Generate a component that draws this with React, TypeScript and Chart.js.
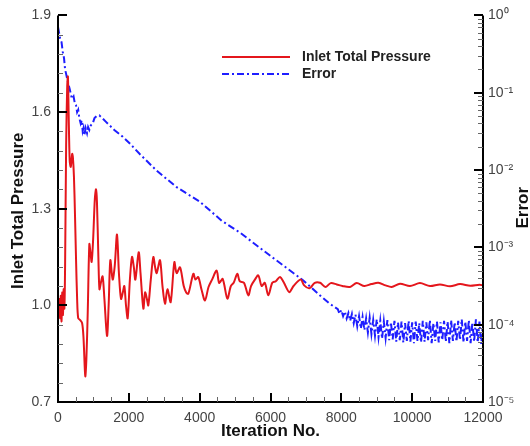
import React, { useEffect, useRef } from 'react';
import { Chart, registerables } from 'chart.js';

Chart.register(...registerables);

// ---------------- data ----------------
const pressureIter = [
  0, 20, 40, 60, 80, 100, 120, 140, 160, 180, 200, 230, 260, 280, 300, 330, 360, 400, 420, 450,
  480, 510, 540, 570, 620, 680, 720, 770, 800, 840, 885, 920, 950, 990, 1040, 1073, 1100, 1140, 1170, 1210,
  1260, 1310, 1384, 1430, 1478, 1543, 1600, 1666, 1720, 1779, 1830, 1873, 1920, 1967, 2030, 2089, 2140, 2184, 2278, 2330,
  2410, 2460, 2510, 2550, 2620, 2692, 2740, 2786, 2880, 2950, 3021, 3090, 3181, 3285, 3350, 3445, 3550, 3620, 3680, 3822,
  3880, 3960, 4050, 4150, 4250, 4350, 4480, 4550, 4650, 4782, 4880, 4960, 5063, 5130, 5250, 5374, 5450, 5560, 5656, 5750,
  5840, 5938, 6050, 6150, 6268, 6380, 6531, 6650, 6852, 6950, 7100, 7250, 7400, 7550, 7700, 7870, 8030, 8245, 8433, 8650,
  8850, 9045, 9250, 9420, 9656, 9938, 10220, 10503, 10785, 11070, 11350, 11640, 11900, 12000,
];
const pressure = [
  1.0, 0.97, 1.02, 0.96, 1.03, 0.95, 1.04, 0.97, 1.05, 0.99, 1.12, 1.5, 1.68, 1.71, 1.6, 1.45, 1.43, 1.47, 1.46, 1.4,
  1.28, 1.14, 1.02, 0.96, 0.955, 0.945, 0.9, 0.78, 0.83, 0.98, 1.19, 1.16, 1.135, 1.2, 1.33, 1.36, 1.32, 1.15, 1.05, 1.07,
  1.09, 1.02, 0.905, 1.0, 1.14, 1.08, 1.12, 1.22, 1.1, 1.02, 1.04, 1.06, 1.0, 0.96, 1.08, 1.15, 1.12, 1.08, 1.165, 1.1,
  0.99, 1.04, 1.02, 1.0, 1.08, 1.15, 1.12, 1.1, 1.14, 1.06, 1.005, 1.05, 1.01, 1.134, 1.1, 1.118, 1.06, 1.04, 1.036, 1.098,
  1.08, 1.088, 1.05, 1.015, 1.057, 1.08, 1.108, 1.07, 1.082, 1.021, 1.06, 1.07, 1.098, 1.075, 1.07, 1.031, 1.06, 1.08, 1.093, 1.06,
  1.07, 1.031, 1.07, 1.075, 1.088, 1.07, 1.041, 1.06, 1.08, 1.062, 1.053, 1.07, 1.07, 1.057, 1.069, 1.065, 1.06, 1.057, 1.069, 1.06,
  1.066, 1.07, 1.062, 1.057, 1.067, 1.06, 1.069, 1.06, 1.065, 1.059, 1.066, 1.061, 1.064, 1.062,
];

const errorIter = [
  0, 60, 100, 133, 170, 200, 226, 260, 300, 330, 367, 400, 440, 480, 508, 540, 570, 602, 640, 670,
  697, 720, 743, 780, 820, 850, 884, 930, 980, 1030, 1090, 1166, 1250, 1355, 1590, 1827, 2013, 2315, 2787, 3351,
  4009, 4622, 5139, 5986, 6926, 7398, 7650,
  7900, 7950, 8000, 8050, 8100, 8150, 8200, 8250, 8300, 8350, 8400, 8450, 8500, 8550, 8600, 8650, 8700, 8750, 8800, 8850,
  8900, 8950, 9000, 9050, 9100, 9150, 9200, 9250, 9300, 9350, 9400, 9450, 9500, 9550, 9600, 9650, 9700, 9750, 9800, 9850,
  9900, 9950, 10000, 10050, 10100, 10150, 10200, 10250, 10300, 10350, 10400, 10450, 10500, 10550, 10600, 10650, 10700, 10750, 10800, 10850,
  10900, 10950, 11000, 11050, 11100, 11150, 11200, 11250, 11300, 11350, 11400, 11450, 11500, 11550, 11600, 11650, 11700, 11750, 11800, 11850,
  11900, 11950, 12000,
];
const errorValues = [
  0.71, 0.5, 0.45, 0.34, 0.28, 0.2, 0.178, 0.151, 0.126, 0.112, 0.093, 0.083, 0.089, 0.071, 0.069, 0.056, 0.06, 0.047, 0.04, 0.044,
  0.032, 0.035, 0.028, 0.035, 0.03, 0.036, 0.033, 0.038, 0.04, 0.047, 0.05, 0.051, 0.047, 0.042, 0.033, 0.027, 0.0224, 0.016, 0.0098, 0.006,
  0.00388, 0.00221, 0.00155, 0.000783, 0.000373, 0.000239, 0.00019,
  1.585e-4, 1.38e-4, 1.549e-4, 1.288e-4, 1.479e-4, 1.202e-4, 1.413e-4, 1.122e-4, 1.38e-4, 1.047e-4, 1.349e-4, 9.55e-5, 1.288e-4, 8.91e-5, 1.259e-4, 8.51e-5, 1.202e-4, 7.94e-5, 1.23e-4, 7.59e-5,
  1.148e-4, 7.24e-5, 1.175e-4, 6.92e-5, 1.122e-4, 6.61e-5, 1.096e-4, 6.76e-5, 1.148e-4, 6.31e-5, 1.072e-4, 6.46e-5, 1.122e-4, 6.03e-5, 1.072e-4, 6.31e-5, 1.096e-4, 5.89e-5, 1.047e-4, 6.17e-5,
  1.122e-4, 6.03e-5, 1.072e-4, 5.75e-5, 1.096e-4, 6.17e-5, 1.047e-4, 5.89e-5, 1.122e-4, 6.03e-5, 1.072e-4, 6.31e-5, 1.148e-4, 5.75e-5, 1.047e-4, 6.17e-5, 1.096e-4, 5.89e-5, 1.072e-4, 6.31e-5,
  1.122e-4, 6.03e-5, 1.096e-4, 5.75e-5, 1.148e-4, 6.17e-5, 1.072e-4, 6.03e-5, 1.122e-4, 6.31e-5, 1.175e-4, 5.89e-5, 1.096e-4, 6.17e-5, 1.148e-4, 5.75e-5, 1.072e-4, 6.03e-5, 1.175e-4, 5.89e-5,
  1.096e-4, 5.62e-5, 1.047e-4,
];

const xTickValues = [0, 2000, 4000, 6000, 8000, 10000, 12000];
const leftTickValues = [0.7, 1.0, 1.3, 1.6, 1.9];
const rightTickLabels: Record<string, string> = {
  '0': '10\u2070',
  '-1': '10\u207B\u00B9',
  '-2': '10\u207B\u00B2',
  '-3': '10\u207B\u00B3',
  '-4': '10\u207B\u2074',
  '-5': '10\u207B\u2075',
};

const seriesNames = ['Inlet Total Pressure', 'Error'];
const axisTitles = { left: 'Inlet Total Pressure', bottom: 'Iteration No.', right: 'Error' };

const RED = 'rgb(228,22,28)';
const BLUE = 'rgb(30,30,255)';
const FONT = '"Liberation Sans", Arial, Helvetica, sans-serif';
const ERROR_DASH = [7, 3, 2, 3];

const tecplotPlugin = {
  id: 'tecplotFrame',
  afterDatasetsDraw(chart: any) {
    const { ctx, chartArea: a, scales } = chart;
    const sx = scales.x, sy = scales.y, sy1 = scales.y1;
    ctx.save();

    // axis lines (left, bottom, right; open at top)
    ctx.strokeStyle = '#000';
    ctx.lineWidth = 2;
    ctx.beginPath();
    ctx.moveTo(a.left, a.top);
    ctx.lineTo(a.left, a.bottom);
    ctx.lineTo(a.right, a.bottom);
    ctx.lineTo(a.right, a.top);
    ctx.stroke();

    const majorLen = 9;
    const minorLen = 5;

    // left axis ticks
    for (let v = 0.7; v <= 1.9001; v += 0.06) {
      const isMajor = leftTickValues.some((t) => Math.abs(t - v) < 1e-6);
      const py = Math.round(sy.getPixelForValue(v));
      ctx.beginPath();
      ctx.lineWidth = isMajor ? 2 : 1;
      ctx.strokeStyle = isMajor ? '#000' : '#666';
      const yy = isMajor ? py : py + 0.5;
      ctx.moveTo(a.left, yy);
      ctx.lineTo(a.left + (isMajor ? majorLen : minorLen), yy);
      ctx.stroke();
    }

    // bottom axis ticks
    for (let v = 0; v <= 12000; v += 500) {
      const isMajor = xTickValues.includes(v);
      const px = Math.round(sx.getPixelForValue(v));
      ctx.beginPath();
      ctx.lineWidth = isMajor ? 2 : 1;
      ctx.strokeStyle = isMajor ? '#000' : '#666';
      const xx = isMajor ? px : px + 0.5;
      ctx.moveTo(xx, a.bottom);
      ctx.lineTo(xx, a.bottom - (isMajor ? majorLen : minorLen));
      ctx.stroke();
    }

    // right axis ticks (log)
    for (let e = -5; e <= 0; e++) {
      for (let k = 1; k <= 9; k++) {
        if (e === 0 && k > 1) break;
        const v = k * Math.pow(10, e);
        const py = Math.round(sy1.getPixelForValue(v));
        const isMajor = k === 1;
        ctx.beginPath();
        ctx.lineWidth = isMajor ? 2 : 1;
        ctx.strokeStyle = isMajor ? '#000' : '#666';
        const yy = isMajor ? py : py + 0.5;
        ctx.moveTo(a.right, yy);
        ctx.lineTo(a.right - (isMajor ? majorLen : minorLen), yy);
        ctx.stroke();
      }
    }

    // axis titles
    ctx.fillStyle = '#111';
    ctx.font = `bold 17px ${FONT}`;
    ctx.textAlign = 'center';
    ctx.textBaseline = 'middle';
    ctx.save();
    ctx.translate(18.5, (a.top + a.bottom) / 2 + 2);
    ctx.rotate(-Math.PI / 2);
    ctx.fillText(axisTitles.left, 0, 0);
    ctx.restore();

    ctx.fillText(axisTitles.bottom, (a.left + a.right) / 2, 431);

    ctx.save();
    ctx.translate(523, (a.top + a.bottom) / 2 - 1);
    ctx.rotate(-Math.PI / 2);
    ctx.fillText(axisTitles.right, 0, 0);
    ctx.restore();

    // legend
    const lx0 = a.left + 164;
    const lx1 = a.left + 232;
    const tx = a.left + 244;
    const ly0 = 57;
    const ly1 = 74;
    ctx.lineWidth = 2;
    ctx.strokeStyle = RED;
    ctx.setLineDash([]);
    ctx.beginPath();
    ctx.moveTo(lx0, ly0);
    ctx.lineTo(lx1, ly0);
    ctx.stroke();
    ctx.strokeStyle = BLUE;
    ctx.setLineDash(ERROR_DASH);
    ctx.beginPath();
    ctx.moveTo(lx0, ly1);
    ctx.lineTo(lx1, ly1);
    ctx.stroke();
    ctx.setLineDash([]);
    ctx.fillStyle = '#222';
    ctx.font = `bold 14px ${FONT}`;
    ctx.textAlign = 'left';
    ctx.fillText(seriesNames[0], tx, ly0);
    ctx.fillText(seriesNames[1], tx, ly1);

    ctx.restore();
  },
};

export default function App() {
  const canvasRef = useRef<HTMLCanvasElement | null>(null);

  useEffect(() => {
    const canvas = canvasRef.current;
    if (!canvas) return;
    const pData = pressureIter.map((x, i) => ({ x, y: pressure[i] }));
    const eData = errorIter.map((x, i) => ({ x, y: errorValues[i] }));

    const chart = new Chart(canvas, {
      type: 'line',
      data: {
        datasets: [
          {
            label: seriesNames[0],
            data: pData,
            borderColor: RED,
            borderWidth: 2,
            pointRadius: 0,
            tension: 0.3,
            yAxisID: 'y',
            fill: false,
          },
          {
            label: seriesNames[1],
            data: eData,
            borderColor: BLUE,
            borderWidth: 2,
            borderDash: ERROR_DASH,
            pointRadius: 0,
            tension: 0,
            yAxisID: 'y1',
            fill: false,
          },
        ],
      },
      options: {
        responsive: false,
        animation: false,
        devicePixelRatio: 1,
        layout: { padding: { top: 14, left: 0, right: 0, bottom: 0 } },
        plugins: {
          legend: { display: false },
          tooltip: { enabled: false },
          title: { display: false },
        },
        scales: {
          x: {
            type: 'linear',
            min: 0,
            max: 12000,
            grid: { display: false, drawTicks: false },
            border: { display: false },
            ticks: {
              stepSize: 2000,
              autoSkip: false,
              maxRotation: 0,
              padding: 8,
              color: '#444',
              font: { family: FONT, size: 14 },
              callback: (v: any) => String(v),
            },
            afterFit: (s: any) => {
              s.height = 44;
            },
          },
          y: {
            type: 'linear',
            position: 'left',
            min: 0.7,
            max: 1.9,
            grid: { display: false, drawTicks: false },
            border: { display: false },
            ticks: {
              stepSize: 0.3,
              autoSkip: false,
              padding: 7,
              color: '#444',
              font: { family: FONT, size: 14 },
              callback: (v: any) => Number(v).toFixed(1),
            },
            afterFit: (s: any) => {
              s.width = 58;
            },
          },
          y1: {
            type: 'logarithmic',
            position: 'right',
            min: 1e-5,
            max: 1,
            grid: { display: false, drawTicks: false },
            border: { display: false },
            ticks: {
              autoSkip: false,
              padding: 5,
              color: '#444',
              font: { family: FONT, size: 14 },
              callback: (v: any) => {
                const e = Math.log10(Number(v));
                const r = Math.round(e);
                if (Math.abs(e - r) > 1e-9) return '';
                return rightTickLabels[String(r)] ?? '';
              },
            },
            afterFit: (s: any) => {
              s.width = 47;
            },
          },
        },
      },
      plugins: [tecplotPlugin],
    });

    return () => {
      chart.destroy();
    };
  }, []);

  return (
    <div style={{ position: 'fixed', left: 0, top: 0, width: 530, height: 446, background: '#fff' }}>
      <canvas ref={canvasRef} width={530} height={446} style={{ width: 530, height: 446 }} />
    </div>
  );
}
